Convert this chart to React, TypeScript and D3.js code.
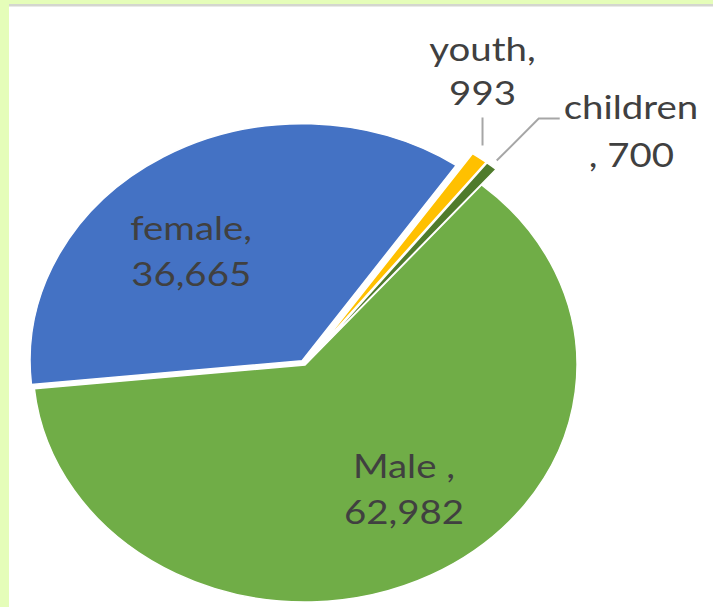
import React from "react";
import * as d3 from "d3";

const categories = ["Male", "female", "youth", "children"];
const values = [62982, 36665, 993, 700];
const labelLines = [
  ["Male ,", "62,982"],
  ["female,", "36,665"],
  ["youth,", "993"],
  ["children", ", 700"],
];
const colors = ["#70ad47", "#4472c4", "#ffc000", "#4f7b2c"];

const W = 713;
const H = 607;
const CX = 305;
const CY = 365;
const R = 237;
const SX = 272 / 237;
const START = (40.5 * Math.PI) / 180;
const EXPLODE = [0, 5, 20, 20];
const TEXT_SX = 1.2;
const FONT = "Lato, 'Open Sans', sans-serif";
const TEXT_COLOR = "#404040";
const FS = 32;

function toPx(angle: number, r: number) {
  return [CX + Math.sin(angle) * r * SX, CY - Math.cos(angle) * r];
}

function Txt({ x, y, anchor, children }: any) {
  return (
    <text
      transform={`translate(${x},${y}) scale(${TEXT_SX},1)`}
      textAnchor={anchor}
      fontFamily={FONT}
      fontSize={FS}
      fill={TEXT_COLOR}
    >
      {children}
    </text>
  );
}

export default function App() {
  const pie = d3
    .pie<number>()
    .sort(null)
    .startAngle(START)
    .endAngle(START + 2 * Math.PI);
  const arcs = pie(values);
  const arc = d3.arc<d3.PieArcDatum<number>>().innerRadius(0).outerRadius(R);

  // inside label placement (radius fraction, angle adjust in degrees)
  const inside: Record<number, { rf: number; da: number }> = {
    0: { rf: 0.64, da: -7 },
    1: { rf: 0.635, da: -10.6 },
  };

  const mid = (a: d3.PieArcDatum<number>) => (a.startAngle + a.endAngle) / 2;

  const youth = arcs[2];
  const child = arcs[3];
  const yp = toPx(mid(youth), R + EXPLODE[2] + 9);
  const y0 = [yp[0] - 3, yp[1] - 5];
  const yTop = [y0[0], y0[1] - 28];
  const c0 = toPx(mid(child), R + EXPLODE[3] + 7);
  const c1 = [c0[0] + 42, c0[1] - 42];
  const c2 = [c1[0] + 21, c1[1]];

  return (
    <svg
      width={W}
      height={H}
      style={{ position: "absolute", left: 0, top: 0 }}
    >
      <rect x={0} y={0} width={W} height={H} fill="#ffffff" />
      <rect x={0} y={0} width={W} height={5} fill="#e5fdb9" />
      <rect x={9} y={4} width={W - 9} height={2.5} fill="#d4d6cf" />
      <rect x={0} y={0} width={9} height={H} fill="#e5fdb9" />

      <g transform={`translate(${CX},${CY}) scale(${SX},1)`}>
        {arcs.map((a, i) => {
          const m = mid(a);
          const dx = Math.sin(m) * EXPLODE[i];
          const dy = -Math.cos(m) * EXPLODE[i];
          return (
            <path
              key={categories[i]}
              d={arc(a) || ""}
              transform={`translate(${dx},${dy})`}
              fill={colors[i]}
              stroke="#ffffff"
              strokeWidth={1.5}
              vectorEffect="non-scaling-stroke"
            />
          );
        })}
      </g>

      {arcs.map((a, i) => {
        const cfg = inside[i];
        if (!cfg) return null;
        const ang = mid(a) + (cfg.da * Math.PI) / 180;
        const [x, y] = toPx(ang, cfg.rf * R);
        return (
          <g key={"lbl" + i}>
            <Txt x={x} y={y - 12} anchor="middle">
              {labelLines[i][0]}
            </Txt>
            <Txt x={x} y={y + 34} anchor="middle">
              {labelLines[i][1]}
            </Txt>
          </g>
        );
      })}

      <polyline
        points={`${y0[0]},${y0[1]} ${yTop[0]},${yTop[1]}`}
        fill="none"
        stroke="#a6a6a6"
        strokeWidth={2}
      />
      <Txt x={yTop[0]} y={yTop[1] - 12} anchor="middle">
        {labelLines[2][1]}
      </Txt>
      <Txt x={yTop[0]} y={yTop[1] - 56} anchor="middle">
        {labelLines[2][0]}
      </Txt>

      <polyline
        points={`${c0[0]},${c0[1]} ${c1[0]},${c1[1]} ${c2[0]},${c2[1]}`}
        fill="none"
        stroke="#a6a6a6"
        strokeWidth={2}
      />
      <Txt x={c2[0] + 4} y={c2[1] + 0} anchor="start">
        {labelLines[3][0]}
      </Txt>
      <Txt x={c2[0] + 29} y={c2[1] + 48} anchor="start">
        {labelLines[3][1]}
      </Txt>
    </svg>
  );
}
